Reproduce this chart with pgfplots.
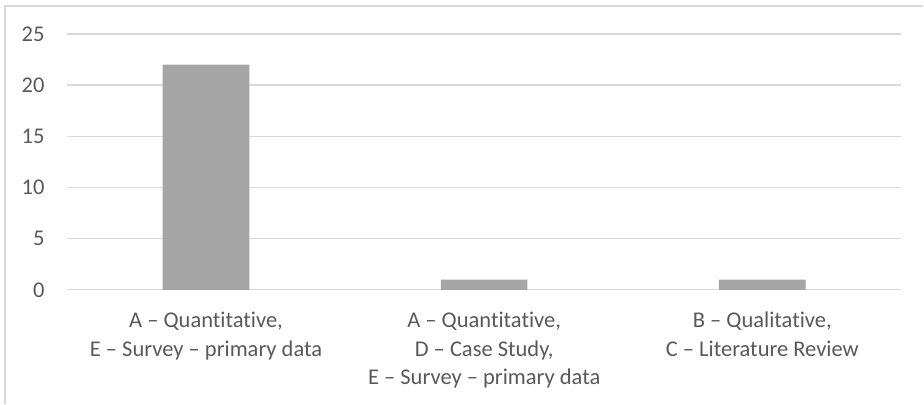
\documentclass[border=0pt]{standalone}
\usepackage{pgfplots}
\pgfplotsset{compat=1.18}
\usepackage{fontspec}
\setmainfont{Carlito}[Ligatures=NoCommon]
\definecolor{barc}{HTML}{A5A5A5}
\definecolor{gridc}{HTML}{D9D9D9}
\definecolor{txt}{HTML}{595959}
\begin{document}
\begin{tikzpicture}[x=1pt,y=1pt]
\path (0,0) rectangle (924,404);
\draw[gridc, line width=1.3pt] (5,0) -- (5,398) -- (924,398);
\begin{axis}[
  at={(67pt,114pt)}, anchor=south west,
  scale only axis, width=835pt, height=256pt,
  xmin=-0.5, xmax=2.5, ymin=0, ymax=25,
  ytick={0,5,...,25},
  xtick={0,1,2},
  xticklabels={{A -- Quantitative,\\E -- Survey -- primary data},{A -- Quantitative,\\D -- Case Study,\\E -- Survey -- primary data},{B -- Qualitative,\\C -- Literature Review}},
  axis line style={draw=none},
  major tick length=0pt,
  ymajorgrids, grid style={gridc, line width=1.4pt},
  tick label style={font=\fontsize{22.5}{28.5}\selectfont, text=txt},
  xticklabel style={align=center, anchor=north, yshift=-19pt},
  yticklabel style={anchor=east, xshift=-19pt},
  /pgf/number format/assume math mode=true,
  clip=false,
]
\addplot[ybar, bar width=0.3115, fill=barc, draw=none] coordinates {(0,22) (1,1) (2,1)};
\end{axis}
\end{tikzpicture}
\end{document}
